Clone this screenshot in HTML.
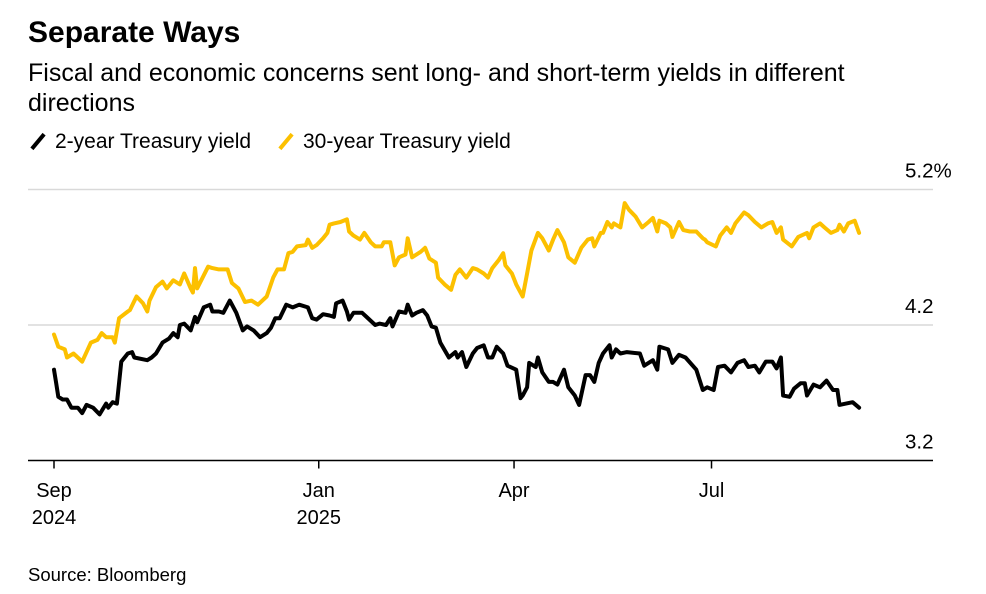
<!DOCTYPE html>
<html><head><meta charset="utf-8">
<style>
body{margin:0;background:#fff;font-family:"Liberation Sans",Arial,sans-serif;color:#000;}
#wrap{position:relative;width:986px;height:594px;overflow:hidden;}
.t{position:absolute;white-space:nowrap;}
</style></head>
<body>
<div id="wrap">
<div class="t" style="left:28px;top:16px;font-size:30px;font-weight:bold;">Separate Ways</div>
<div class="t" style="left:28px;top:58px;font-size:25px;line-height:30px;white-space:normal;width:900px;">Fiscal and economic concerns sent long- and short-term yields in different directions</div>
<div class="t" style="left:28px;top:130px;font-size:21px;"><span style="display:inline-block;width:4px;height:19px;background:#000;transform:rotate(40deg);margin:0 15px -3px 8px;"></span>2-year Treasury yield</div>
<div class="t" style="left:276px;top:130px;font-size:21px;"><span style="display:inline-block;width:4px;height:19px;background:#fcc000;transform:rotate(40deg);margin:0 15px -3px 8px;"></span>30-year Treasury yield</div>
<svg id="chart" width="986" height="594" style="position:absolute;left:0;top:0;"></svg>
<div class="t" style="left:28px;top:564px;font-size:18.5px;">Source: Bloomberg</div>
</div>
<script>
const days2 = [0,1,2,4,6,8,11,13,15,18,21,24,25,27,29,31,34,36,37,43,45,47,50,53,55,57,58,60,63,65,66,69,72,73,76,78,81,84,87,89,92,95,98,100,102,104,107,110,113,117,119,121,124,127,129,130,133,135,136,138,142,144,148,150,153,155,156,159,162,163,165,167,170,172,174,176,178,182,185,186,188,190,193,195,198,200,202,204,207,209,213,215,216,218,219,222,223,225,228,230,232,235,237,240,242,245,247,249,251,253,256,257,259,261,264,270,272,276,278,279,283,285,288,291,296,299,301,304,306,309,312,315,318,320,323,325,328,331,333,335,336,339,341,344,346,347,350,353,356,359,361,362,365,368,371];
const yield2 = [3.87,3.77,3.67,3.65,3.65,3.59,3.59,3.55,3.61,3.59,3.54,3.62,3.59,3.63,3.62,3.93,3.99,4.00,3.96,3.94,3.96,3.99,4.07,4.10,4.14,4.11,4.20,4.21,4.16,4.26,4.22,4.33,4.35,4.30,4.30,4.29,4.38,4.29,4.16,4.19,4.16,4.11,4.14,4.18,4.25,4.25,4.35,4.33,4.35,4.33,4.25,4.24,4.28,4.27,4.26,4.36,4.38,4.30,4.24,4.29,4.29,4.26,4.20,4.21,4.20,4.25,4.19,4.30,4.29,4.35,4.27,4.29,4.31,4.27,4.19,4.18,4.07,3.96,4.00,3.96,4.00,3.89,3.99,4.03,4.05,3.96,3.96,4.04,3.99,3.90,3.87,3.66,3.68,3.74,3.92,3.89,3.96,3.85,3.78,3.78,3.76,3.87,3.74,3.68,3.61,3.83,3.83,3.78,3.92,3.99,4.05,3.96,4.02,3.99,4.00,3.99,3.90,3.94,3.87,4.04,4.02,3.92,3.98,3.96,3.87,3.72,3.74,3.72,3.89,3.90,3.85,3.92,3.94,3.89,3.90,3.85,3.93,3.93,3.88,3.96,3.68,3.67,3.73,3.77,3.77,3.68,3.76,3.74,3.79,3.72,3.72,3.61,3.62,3.63,3.59];
const days30 = [0,2,5,6,9,13,17,20,22,24,27,28,30,34,35,38,41,43,44,47,50,52,55,58,60,63,64,65,66,71,73,76,80,82,85,88,91,94,98,101,103,106,108,110,112,116,117,119,121,124,126,127,129,132,135,136,138,141,143,146,148,151,152,155,157,159,162,163,165,169,171,173,176,177,180,183,185,187,190,193,195,198,200,202,205,207,208,211,213,216,218,220,223,225,228,230,232,235,237,240,243,246,248,249,252,253,255,257,258,261,263,265,268,271,274,276,278,279,282,284,285,288,290,293,296,299,300,301,305,307,310,312,314,318,320,323,326,329,331,333,335,336,340,343,347,348,350,353,355,358,361,362,364,366,369,371];
const yield30 = [4.13,4.04,4.02,3.96,3.99,3.93,4.07,4.09,4.14,4.11,4.11,4.07,4.25,4.30,4.31,4.41,4.36,4.30,4.38,4.48,4.52,4.47,4.53,4.50,4.58,4.47,4.44,4.62,4.47,4.63,4.62,4.61,4.61,4.51,4.47,4.37,4.38,4.35,4.41,4.55,4.61,4.61,4.73,4.74,4.78,4.79,4.83,4.77,4.79,4.84,4.88,4.94,4.95,4.96,4.98,4.89,4.86,4.83,4.88,4.81,4.78,4.78,4.81,4.81,4.64,4.70,4.72,4.84,4.70,4.74,4.77,4.69,4.66,4.55,4.50,4.46,4.57,4.61,4.55,4.62,4.61,4.58,4.55,4.62,4.68,4.73,4.64,4.58,4.50,4.41,4.58,4.75,4.88,4.84,4.75,4.83,4.90,4.81,4.70,4.66,4.77,4.83,4.84,4.78,4.88,4.88,4.96,4.92,4.95,4.92,5.10,5.05,5.00,4.92,4.96,4.99,4.89,4.97,4.95,4.92,4.85,4.96,4.90,4.89,4.89,4.84,4.83,4.81,4.78,4.86,4.92,4.88,4.95,5.03,5.01,4.96,4.92,4.95,4.96,4.88,4.92,4.83,4.78,4.85,4.88,4.84,4.92,4.95,4.92,4.88,4.90,4.94,4.89,4.95,4.97,4.88];
const yTicks = [5.2, 4.2, 3.2];
const yTickLabels = ["5.2%", "4.2", "3.2"];
const xTickDays = [0, 122, 212, 303];
const xTickLabels = [["Sep","2024"],["Jan","2025"],["Apr",""],["Jul",""]];

const NS = "http://www.w3.org/2000/svg";
const svg = document.getElementById("chart");
function xs(d){ return 54 + d * 2.17; }
function ys(v){ return 325 - (v - 4.2) * 135.5; }
function mk(tag, attrs){ const e = document.createElementNS(NS, tag); for (const k in attrs) e.setAttribute(k, attrs[k]); svg.appendChild(e); return e; }

yTicks.forEach((v, i) => {
  if (i < yTicks.length - 1) {
    const g = mk("line", {x1:28, x2:933, y1:ys(v), y2:ys(v), stroke:"#d9d9d9", "stroke-width":1.5});
    
    
  }
  const t = mk("text", {x:905, y:ys(v) - 12, "font-size":20.5, "font-family":"Liberation Sans, sans-serif", fill:"#000"});
  t.textContent = yTickLabels[i];
  
  
});
const base = mk("line", {x1:28, x2:933, y1:ys(3.2), y2:ys(3.2), stroke:"#000", "stroke-width":1.5});



xTickDays.forEach((d, i) => {
  const tk = mk("line", {x1:xs(d), x2:xs(d), y1:ys(3.2), y2:ys(3.2) + 8, stroke:"#000", "stroke-width":1.5});
  
  
  xTickLabels[i].forEach((s, j) => {
    if (!s) return;
    const t = mk("text", {x:xs(d), y:497 + j * 27, "font-size":20, "text-anchor":"middle", "font-family":"Liberation Sans, sans-serif", fill:"#000"});
    t.textContent = s;
    
    
  });
});

function drawLine(days, vals, color, name){
  const d = days.map((dd, i) => (i ? "L" : "M") + xs(dd).toFixed(1) + "," + ys(vals[i]).toFixed(1)).join("");
  const p = mk("path", {d:d, fill:"none", stroke:color, "stroke-width":4, "stroke-linejoin":"round", "stroke-linecap":"round"});
  
  
}
drawLine(days30, yield30, "#fcc000", "series-30-year-line");
drawLine(days2, yield2, "#000", "series-2-year-line");
</script>
</body></html>
